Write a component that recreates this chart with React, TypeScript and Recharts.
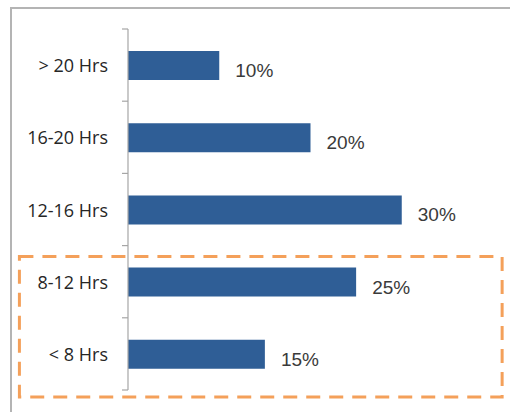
import React from "react";
import {
  BarChart,
  Bar,
  XAxis,
  YAxis,
  LabelList,
  ReferenceArea,
} from "recharts";

const categories = ["> 20 Hrs", "16-20 Hrs", "12-16 Hrs", "8-12 Hrs", "< 8 Hrs"];
const shares = [10, 20, 30, 25, 15];
const highlighted = ["8-12 Hrs", "< 8 Hrs"];

const data = categories.map((name, i) => ({ name, value: shares[i] }));

const AXIS_GRAY = "#a6a6a6";

// category label plus Excel-style tick marks at the band boundaries
const CategoryTick = (props: any) => {
  const { x, y, payload, index, visibleTicksCount } = props;
  const half = payload?.offset ?? 0;
  const isLast = index === (visibleTicksCount ?? categories.length) - 1;
  return (
    <g>
      <line x1={x + 14} x2={x + 20} y1={y - half} y2={y - half} stroke={AXIS_GRAY} strokeWidth={1.2} />
      {isLast && (
        <line x1={x + 14} x2={x + 20} y1={y + half} y2={y + half} stroke={AXIS_GRAY} strokeWidth={1.2} />
      )}
      <text
        x={x}
        y={y}
        textAnchor="end"
        dominantBaseline="central"
        fontFamily="Open Sans, sans-serif"
        fontSize={18}
        fill="#262626"
      >
        {payload.value}
      </text>
    </g>
  );
};

const renderValueLabel = (props: any) => {
  const { x, y, width, height, value } = props;
  return (
    <text
      x={x + width + 16}
      y={y + height / 2 + 5}
      dominantBaseline="central"
      fontFamily="Liberation Sans, Arial, sans-serif"
      fontSize={19}
      fill="#3a3a3a"
    >
      {value}%
    </text>
  );
};

const HighlightBox = (props: any) => {
  const { x, y, width, height } = props;
  return (
    <rect
      x={x}
      y={y + 11}
      width={width}
      height={height - 4}
      fill="none"
      stroke="#f4a05a"
      strokeWidth={3}
      strokeDasharray="14 9"
    />
  );
};

export default function App() {
  return (
    <div
      style={{
        position: "absolute",
        top: 0,
        left: 0,
        width: 510,
        height: 412,
        overflow: "hidden",
        background: "#fff",
      }}
    >
      <div
        style={{
          position: "absolute",
          left: 10,
          top: 7,
          width: 500,
          height: 2,
          background: "#b4b4b4",
        }}
      />
      <div
        style={{
          position: "absolute",
          left: 10,
          top: 7,
          width: 2,
          height: 405,
          background: "#b4b4b4",
        }}
      />
      <div style={{ position: "absolute", left: 0, top: 0 }}>
        <BarChart
          width={510}
          height={412}
          data={data}
          layout="vertical"
          margin={{ top: 29, right: 17, bottom: 22, left: 0 }}
          barSize={29}
        >
          <XAxis type="number" domain={[0, 40]} hide />
          <YAxis
            type="category"
            dataKey="name"
            width={128}
            axisLine={{ stroke: AXIS_GRAY, strokeWidth: 1.2 }}
            tickLine={false}
            tickSize={6}
            tickMargin={14}
            tick={<CategoryTick />}
          />
          <Bar dataKey="value" fill="#2f5e96" isAnimationActive={false}>
            <LabelList dataKey="value" content={renderValueLabel} />
          </Bar>
          <ReferenceArea
            y1={highlighted[0]}
            y2={highlighted[1]}
            x1={-11.9}
            x2={41}
            ifOverflow="visible"
            shape={<HighlightBox />}
          />
        </BarChart>
      </div>
    </div>
  );
}
